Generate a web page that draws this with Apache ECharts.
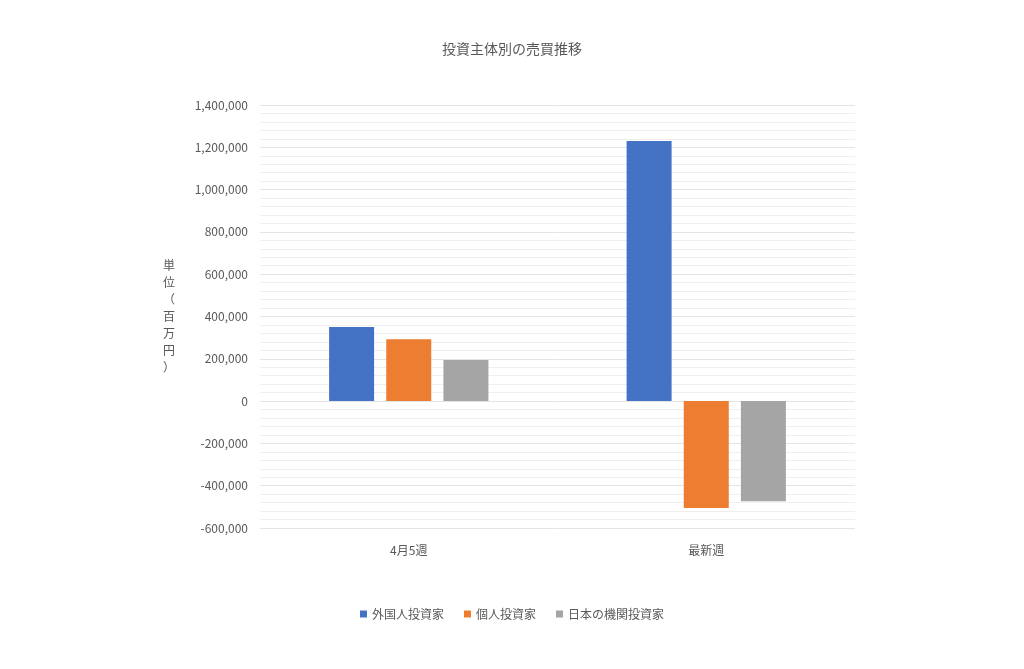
<!DOCTYPE html>
<html style="height: 100%">
<head>
 <meta charset="utf-8">
 <title>投資主体別の売買推移</title>
</head>
<body style="height: 100%; margin: 0; background: #fff">
 <div id="container" style="width: 1024px; height: 669px"></div>
 <script src="https://cdn.jsdelivr.net/npm/echarts@6/dist/echarts.min.js"></script>
 <script>
    var categories = ['4月5週', '最新週'];
    var foreign = [350000, 1230000];
    var individual = [293000, -506000];
    var domesticInst = [194000, -473000];
    var seriesNames = ['外国人投資家', '個人投資家', '日本の機関投資家'];

    var font = '"Noto Sans CJK JP", sans-serif';
    var chart = echarts.init(document.getElementById('container'));
    function bar(name, data, color) {
        return { name: name, type: 'bar', data: data, barWidth: 45, barGap: '27%', itemStyle: { color: color } };
    }
    chart.setOption({
        animation: false,
        textStyle: { fontFamily: font },
        title: {
            text: '投資主体別の売買推移', left: 'center', top: 37,
            textStyle: { fontSize: 14, fontWeight: 'normal', color: '#595959', fontFamily: font }
        },
        legend: {
            bottom: 44, left: 'center', itemWidth: 7, itemHeight: 7, icon: 'rect', itemGap: 20,
            textStyle: { fontSize: 12, color: '#595959' }
        },
        grid: { left: 260, right: 169, top: 105, bottom: 141 },
        xAxis: {
            type: 'category', data: categories,
            axisLine: { show: false }, axisTick: { show: false },
            axisLabel: { color: '#595959', fontSize: 12, margin: 16 }
        },
        yAxis: {
            type: 'value', min: -600000, max: 1400000, interval: 200000,
            name: '単\n位\n（\n百\n万\n円\n）', nameLocation: 'middle', nameRotate: 0, nameGap: 85,
            nameTextStyle: { color: '#595959', fontSize: 12, lineHeight: 17 },
            axisLabel: {
                color: '#595959', fontSize: 12, margin: 12,
                formatter: function (v) { return v.toLocaleString('en-US'); }
            },
            splitLine: { lineStyle: { color: '#e4e4e4' } },
            minorTick: { show: false, splitNumber: 5 },
            minorSplitLine: { show: true, lineStyle: { color: '#efefef' } }
        },
        series: [
            bar(seriesNames[0], foreign, '#4472c4'),
            bar(seriesNames[1], individual, '#ed7d31'),
            bar(seriesNames[2], domesticInst, '#a5a5a5')
        ]
    });
 </script>
</body>
</html>
